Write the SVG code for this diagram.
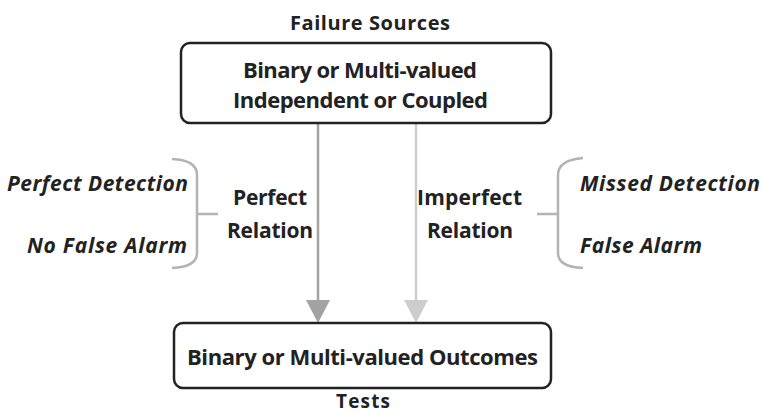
<svg xmlns="http://www.w3.org/2000/svg" width="763" height="414" viewBox="0 0 763 414">
<style>
.t{font-family:"Open Sans","Liberation Sans",sans-serif;font-weight:700;fill:#222}
.i{font-style:italic}
.box{fill:#fff;stroke:#222;stroke-width:2.5}
.br{fill:none;stroke:#b3b3b3;stroke-width:2.5}
</style>
<rect width="763" height="414" fill="#fff"/>
<g id="connectors">
<line x1="318" y1="124" x2="318" y2="302" stroke="#a3a3a3" stroke-width="2.5"/>
<polygon points="306,300 330,300 318,323" fill="#a3a3a3"/>
<line x1="416" y1="124" x2="416" y2="302" stroke="#cdcdcd" stroke-width="2.5"/>
<polygon points="404,300 428,300 416,323" fill="#cdcdcd"/>
</g>
<g id="failure-sources">
<text class="t" x="290" y="30" font-size="20" textLength="160">Failure Sources</text>
<rect class="box" x="181" y="43" width="370" height="80" rx="9"/>
<text class="t" x="243" y="78" font-size="22" textLength="234">Binary or Multi-valued</text>
<text class="t" x="233" y="108" font-size="22" textLength="255">Independent or Coupled</text>
</g>
<g id="tests">
<rect class="box" x="174" y="323" width="377" height="65" rx="9"/>
<text class="t" x="187" y="365" font-size="22" textLength="351">Binary or Multi-valued Outcomes</text>
<text class="t" x="336" y="408" font-size="19" textLength="54">Tests</text>
</g>
<g id="perfect">
<text class="t i" x="7" y="191" font-size="21" textLength="181">Perfect Detection</text>
<text class="t i" x="27" y="253" font-size="21" textLength="160">No False Alarm</text>
<path class="br" d="M172,159 Q197,160 197,175 V253 Q197,267 172,268 M197,214 H218"/>
<text class="t" x="233" y="205" font-size="21" textLength="74">Perfect</text>
<text class="t" x="227" y="238" font-size="21" textLength="86">Relation</text>
</g>
<g id="imperfect">
<text class="t" x="417" y="205" font-size="21" textLength="105">Imperfect</text>
<text class="t" x="427" y="238" font-size="21" textLength="86">Relation</text>
<path class="br" d="M583,158 Q558,160 558,175 V253 Q558,267 583,268 M537,214 H558"/>
<text class="t i" x="580" y="191" font-size="21" textLength="180">Missed Detection</text>
<text class="t i" x="580" y="253" font-size="21" textLength="122">False Alarm</text>
</g>
</svg>
